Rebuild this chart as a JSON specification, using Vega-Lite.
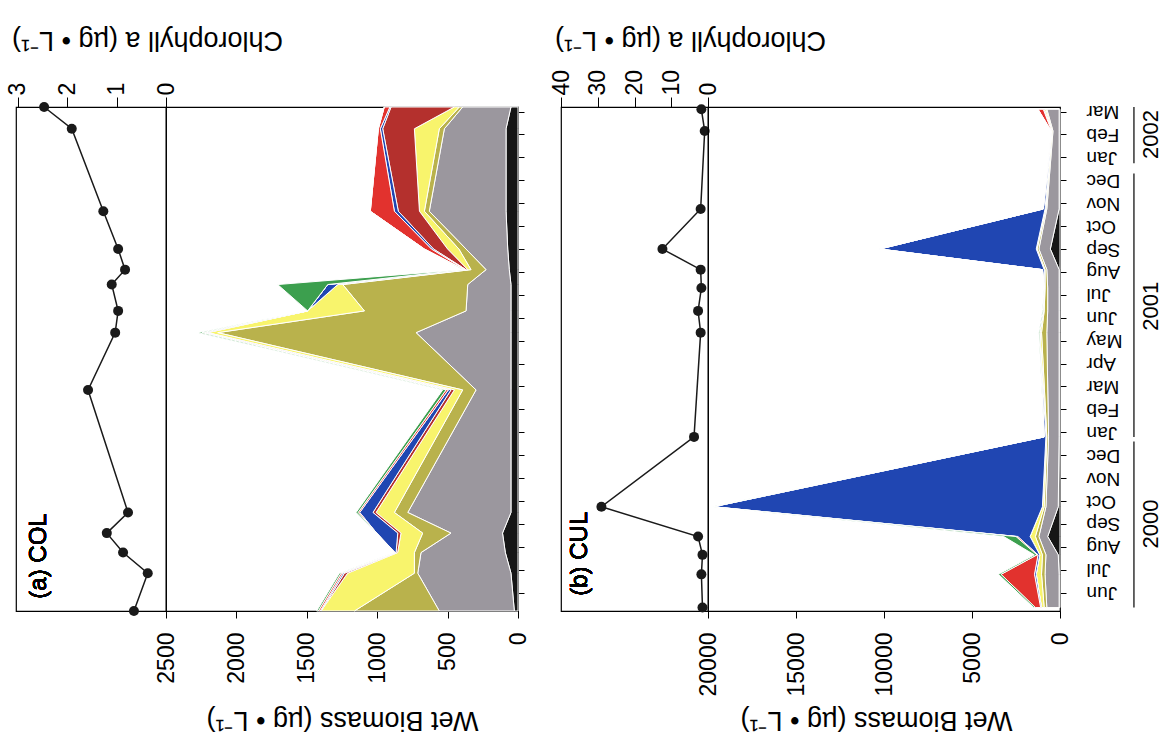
{
  "$schema": "https://vega.github.io/schema/vega-lite/v6.json",
  "background": "white",
  "padding": {"left": 6, "top": 25, "right": 0, "bottom": 0},
  "config": {
    "font": "Liberation Sans",
    "view": {"stroke": "black", "strokeWidth": 1.2},
    "axis": {"labelColor": "black", "titleColor": "black", "tickColor": "black", "domain": false, "grid": false, "labelFlush": false, "labelOverlap": false, "titleFontWeight": "normal", "labelFont": "Liberation Sans", "titleFont": "Liberation Sans"}
  },
  "datasets": {
    "samples": [
      {"site": "COL", "t": -0.8, "chl": 0.65, "black": 26, "grey": 533, "olive": 603, "yellow": 237, "darkred": 0, "blue": 6, "red": 13, "green": 12},
      {"site": "COL", "t": 0.85, "chl": 0.37, "black": 50, "grey": 662, "olive": 24, "yellow": 474, "darkred": 23, "blue": 12, "red": 12, "green": 12},
      {"site": "COL", "t": 1.75, "chl": 0.87, "black": 90, "grey": 599, "olive": 47, "yellow": 119, "darkred": 11, "blue": 6, "red": 6, "green": 0},
      {"site": "COL", "t": 2.6, "chl": 1.2, "black": 110, "grey": 366, "olive": 201, "yellow": 154, "darkred": 23, "blue": 150, "red": 0, "green": 0},
      {"site": "COL", "t": 3.5, "chl": 0.77, "black": 50, "grey": 733, "olive": 95, "yellow": 130, "darkred": 22, "blue": 94, "red": 11, "green": 15},
      {"site": "COL", "t": 8.85, "chl": 1.58, "black": 50, "grey": 248, "olive": 95, "yellow": 59, "darkred": 24, "blue": 19, "red": 16, "green": 24},
      {"site": "COL", "t": 11.35, "chl": 1.03, "black": 50, "grey": 674, "olive": 1409, "yellow": 71, "darkred": 11, "blue": 15, "red": 15, "green": 30},
      {"site": "COL", "t": 12.3, "chl": 0.97, "black": 50, "grey": 319, "olive": 722, "yellow": 403, "darkred": 0, "blue": 0, "red": 0, "green": 0},
      {"site": "COL", "t": 13.45, "chl": 1.1, "black": 50, "grey": 307, "olive": 888, "yellow": 35, "darkred": 0, "blue": 71, "red": 0, "green": 356},
      {"site": "COL", "t": 14.1, "chl": 0.83, "black": 62, "grey": 165, "olive": 107, "yellow": 23, "darkred": 13, "blue": 5, "red": 6, "green": 9},
      {"site": "COL", "t": 15.0, "chl": 0.97, "black": 73, "grey": 296, "olive": 51, "yellow": 80, "darkred": 100, "blue": 15, "red": 50, "green": 0},
      {"site": "COL", "t": 16.65, "chl": 1.27, "black": 85, "grey": 545, "olive": 35, "yellow": 35, "darkred": 150, "blue": 28, "red": 171, "green": 0},
      {"site": "COL", "t": 20.25, "chl": 1.91, "black": 85, "grey": 438, "olive": 36, "yellow": 177, "darkred": 225, "blue": 17, "red": 14, "green": 0},
      {"site": "COL", "t": 21.2, "chl": 2.47, "black": 50, "grey": 343, "olive": 24, "yellow": 35, "darkred": 450, "blue": 8, "red": 40, "green": 0},
      {"site": "CUL", "t": -0.65, "chl": 1.5, "black": 50, "grey": 700, "olive": 150, "yellow": 150, "darkred": 0, "blue": 50, "red": 300, "green": 100},
      {"site": "CUL", "t": 0.8, "chl": 1.8, "black": 50, "grey": 800, "olive": 200, "yellow": 300, "darkred": 0, "blue": 100, "red": 1900, "green": 150},
      {"site": "CUL", "t": 1.65, "chl": 1.5, "black": 100, "grey": 700, "olive": 200, "yellow": 150, "darkred": 0, "blue": 100, "red": 60, "green": 150},
      {"site": "CUL", "t": 2.45, "chl": 2.7, "black": 700, "grey": 500, "olive": 200, "yellow": 300, "darkred": 0, "blue": 700, "red": 100, "green": 700},
      {"site": "CUL", "t": 3.75, "chl": 29, "black": 100, "grey": 700, "olive": 100, "yellow": 100, "darkred": 0, "blue": 18700, "red": 0, "green": 100},
      {"site": "CUL", "t": 6.8, "chl": 3.8, "black": 50, "grey": 600, "olive": 100, "yellow": 50, "darkred": 0, "blue": 100, "red": 0, "green": 0},
      {"site": "CUL", "t": 11.35, "chl": 2.0, "black": 50, "grey": 700, "olive": 300, "yellow": 100, "darkred": 0, "blue": 0, "red": 0, "green": 50},
      {"site": "CUL", "t": 12.3, "chl": 2.7, "black": 50, "grey": 650, "olive": 200, "yellow": 50, "darkred": 0, "blue": 0, "red": 0, "green": 50},
      {"site": "CUL", "t": 13.3, "chl": 1.8, "black": 50, "grey": 650, "olive": 150, "yellow": 50, "darkred": 0, "blue": 0, "red": 0, "green": 0},
      {"site": "CUL", "t": 14.1, "chl": 2.0, "black": 50, "grey": 700, "olive": 100, "yellow": 50, "darkred": 0, "blue": 100, "red": 0, "green": 0},
      {"site": "CUL", "t": 15.0, "chl": 12.4, "black": 550, "grey": 650, "olive": 100, "yellow": 50, "darkred": 0, "blue": 8900, "red": 0, "green": 0},
      {"site": "CUL", "t": 16.75, "chl": 2.0, "black": 50, "grey": 700, "olive": 50, "yellow": 50, "darkred": 0, "blue": 100, "red": 0, "green": 0},
      {"site": "CUL", "t": 20.15, "chl": 0.9, "black": 50, "grey": 350, "olive": 50, "yellow": 30, "darkred": 0, "blue": 0, "red": 20, "green": 0},
      {"site": "CUL", "t": 21.1, "chl": 1.8, "black": 50, "grey": 700, "olive": 50, "yellow": 100, "darkred": 0, "blue": 50, "red": 300, "green": 0}
    ],
    "groups": [
      {"group": "black", "rank": 1},
      {"group": "grey", "rank": 2},
      {"group": "olive", "rank": 3},
      {"group": "yellow", "rank": 4},
      {"group": "darkred", "rank": 5},
      {"group": "blue", "rank": 6},
      {"group": "red", "rank": 7},
      {"group": "green", "rank": 8}
    ],
    "years": [
      {"year": "2000", "start": -0.65, "end": 6.6, "mid": 3},
      {"year": "2001", "start": 6.8, "end": 18.3, "mid": 12.5},
      {"year": "2002", "start": 18.75, "end": 21.2, "mid": 20}
    ]
  },
  "bounds": "flush",
  "spacing": 0,
  "hconcat": [
    {
      "width": 150,
      "height": 504,
      "data": {"name": "samples"},
      "transform": [{"filter": "datum.site === 'COL'"}],
      "layer": [
        {
          "mark": {"type": "line", "color": "#1a1a1a", "strokeWidth": 1.5, "point": {"filled": true, "size": 100, "color": "#1a1a1a"}},
          "encoding": {
            "x": {"field": "chl", "type": "quantitative", "scale": {"domain": [0, 3.04], "reverse": true, "nice": false, "zero": false},
              "axis": {"orient": "top", "values": [0, 1, 2, 3], "tickCount": 30, "format": "d", "tickSize": 10, "labelAngle": 270, "labelAlign": "left", "labelBaseline": "middle", "labelPadding": 2, "labelFontSize": 23, "labelOverlap": false,
                "title": "Chlorophyll a (\u00b5g \u2022 L\u207b\u00b9)", "titleAngle": 180, "titleX": 131, "titleY": -68, "titleAlign": "center", "titleBaseline": "middle", "titleFontSize": 27}},
            "y": {"field": "t", "type": "quantitative", "scale": {"domain": [-0.8, 21.2], "nice": false, "zero": false}, "axis": null},
            "order": {"field": "t", "type": "quantitative"}
          }
        },
        {
          "mark": {"type": "text", "angle": 270, "fontSize": 24, "fontWeight": "normal", "align": "center", "baseline": "middle", "color": "black"},
          "encoding": {"x": {"datum": 2.57, "type": "quantitative"}, "y": {"datum": 1.6, "type": "quantitative", "axis": null}, "text": {"value": "(a) COL"}}
        }
      ]
    },
    {
      "width": 352,
      "height": 504,
      "data": {"name": "samples"},
      "transform": [
        {"filter": "datum.site === 'COL'"},
        {"fold": ["black", "grey", "olive", "yellow", "darkred", "blue", "red", "green"], "as": ["group", "biomass"]},
        {"lookup": "group", "from": {"data": {"name": "groups"}, "key": "group", "fields": ["rank"]}}
      ],
      "mark": {"type": "area", "orient": "horizontal", "stroke": "white", "strokeWidth": 1},
      "encoding": {
        "y": {"field": "t", "type": "quantitative", "scale": {"domain": [-0.8, 21.2], "nice": false, "zero": false},
          "axis": {"orient": "right", "values": [0,1,2,3,4,5,6,7,8,9,10,11,12,13,14,15,16,17,18,19,20,21], "tickCount": 30, "labels": false, "tickSize": 6, "title": null}},
        "x": {"field": "biomass", "type": "quantitative", "stack": "zero", "scale": {"domain": [0, 2500], "reverse": true, "nice": false, "zero": false},
          "axis": {"orient": "bottom", "values": [0, 500, 1000, 1500, 2000, 2500], "tickCount": 30, "format": "d", "tickSize": 7, "labelAngle": 270, "labelAlign": "right", "labelBaseline": "middle", "labelPadding": 14, "labelFontSize": 23, "labelOverlap": false,
            "title": "Wet Biomass (\u00b5g \u2022 L\u207b\u00b9)", "titleAngle": 180, "titleX": 176, "titleY": 108, "titleAlign": "center", "titleBaseline": "middle", "titleFontSize": 27}},
        "color": {"field": "group", "type": "nominal", "legend": null,
          "scale": {"domain": ["black", "grey", "olive", "yellow", "darkred", "blue", "red", "green"], "range": ["#161616", "#9b979e", "#b9b24c", "#f8f46c", "#b4302d", "#2046b2", "#e2322e", "#3c9f4e"]}},
        "order": {"field": "rank", "type": "quantitative"}
      }
    },
    {
      "width": 43,
      "height": 504,
      "view": {"stroke": null},
      "data": {"values": []},
      "mark": "point"
    },
    {
      "width": 147,
      "height": 504,
      "data": {"name": "samples"},
      "transform": [{"filter": "datum.site === 'CUL'"}],
      "layer": [
        {
          "mark": {"type": "line", "color": "#1a1a1a", "strokeWidth": 1.5, "point": {"filled": true, "size": 100, "color": "#1a1a1a"}},
          "encoding": {
            "x": {"field": "chl", "type": "quantitative", "scale": {"domain": [0, 40], "reverse": true, "nice": false, "zero": false},
              "axis": {"orient": "top", "values": [0, 10, 20, 30, 40], "tickCount": 30, "format": "d", "tickSize": 10, "labelAngle": 270, "labelAlign": "left", "labelBaseline": "middle", "labelPadding": 2, "labelFontSize": 23, "labelOverlap": false,
                "title": "Chlorophyll a (\u00b5g \u2022 L\u207b\u00b9)", "titleAngle": 180, "titleX": 129, "titleY": -68, "titleAlign": "center", "titleBaseline": "middle", "titleFontSize": 27}},
            "y": {"field": "t", "type": "quantitative", "scale": {"domain": [-0.8, 21.2], "nice": false, "zero": false}, "axis": null},
            "order": {"field": "t", "type": "quantitative"}
          }
        },
        {
          "mark": {"type": "text", "angle": 270, "fontSize": 24, "fontWeight": "normal", "align": "center", "baseline": "middle", "color": "black"},
          "encoding": {"x": {"datum": 34.7, "type": "quantitative"}, "y": {"datum": 1.7, "type": "quantitative", "axis": null}, "text": {"value": "(b) CUL"}}
        }
      ]
    },
    {
      "width": 352,
      "height": 504,
      "data": {"name": "samples"},
      "transform": [
        {"filter": "datum.site === 'CUL'"},
        {"fold": ["black", "grey", "olive", "yellow", "darkred", "blue", "red", "green"], "as": ["group", "biomass"]},
        {"lookup": "group", "from": {"data": {"name": "groups"}, "key": "group", "fields": ["rank"]}}
      ],
      "mark": {"type": "area", "orient": "horizontal", "stroke": "white", "strokeWidth": 1},
      "encoding": {
        "y": {"field": "t", "type": "quantitative", "scale": {"domain": [-0.8, 21.2], "nice": false, "zero": false},
          "axis": {"orient": "right", "values": [0,1,2,3,4,5,6,7,8,9,10,11,12,13,14,15,16,17,18,19,20,21], "tickCount": 30, "tickSize": 6, "title": null, "labelOverlap": false,
            "labelExpr": "['Jun','Jul','Aug','Sep','Oct','Nov','Dec','Jan','Feb','Mar','Apr','May','Jun','Jul','Aug','Sep','Oct','Nov','Dec','Jan','Feb','Mar'][datum.value]",
            "labelAngle": 180, "labelAlign": "right", "labelBaseline": "middle", "labelPadding": 20, "labelFontSize": 19}},
        "x": {"field": "biomass", "type": "quantitative", "stack": "zero", "scale": {"domain": [0, 20000], "reverse": true, "nice": false, "zero": false},
          "axis": {"orient": "bottom", "values": [0, 5000, 10000, 15000, 20000], "tickCount": 30, "format": "d", "tickSize": 7, "labelAngle": 270, "labelAlign": "right", "labelBaseline": "middle", "labelPadding": 14, "labelFontSize": 23, "labelOverlap": false,
            "title": "Wet Biomass (\u00b5g \u2022 L\u207b\u00b9)", "titleAngle": 180, "titleX": 168, "titleY": 108, "titleAlign": "center", "titleBaseline": "middle", "titleFontSize": 27}},
        "color": {"field": "group", "type": "nominal", "legend": null,
          "scale": {"domain": ["black", "grey", "olive", "yellow", "darkred", "blue", "red", "green"], "range": ["#161616", "#9b979e", "#b9b24c", "#f8f46c", "#b4302d", "#2046b2", "#e2322e", "#3c9f4e"]}},
        "order": {"field": "rank", "type": "quantitative"}
      }
    },
    {
      "width": 115,
      "height": 504,
      "view": {"stroke": null},
      "data": {"name": "years"},
      "layer": [
        {
          "mark": {"type": "rule", "color": "black", "strokeWidth": 1.2},
          "encoding": {
            "x": {"datum": 0.643, "type": "quantitative", "scale": {"domain": [0, 1]}, "axis": null},
            "y": {"field": "start", "type": "quantitative", "scale": {"domain": [-0.8, 21.2], "nice": false, "zero": false}, "axis": null},
            "y2": {"field": "end"}
          }
        },
        {
          "mark": {"type": "text", "angle": 270, "fontSize": 22, "fontWeight": "normal", "align": "center", "baseline": "middle", "color": "black"},
          "encoding": {
            "x": {"datum": 0.79, "type": "quantitative"},
            "y": {"field": "mid", "type": "quantitative"},
            "text": {"field": "year"}
          }
        }
      ]
    }
  ]
}
